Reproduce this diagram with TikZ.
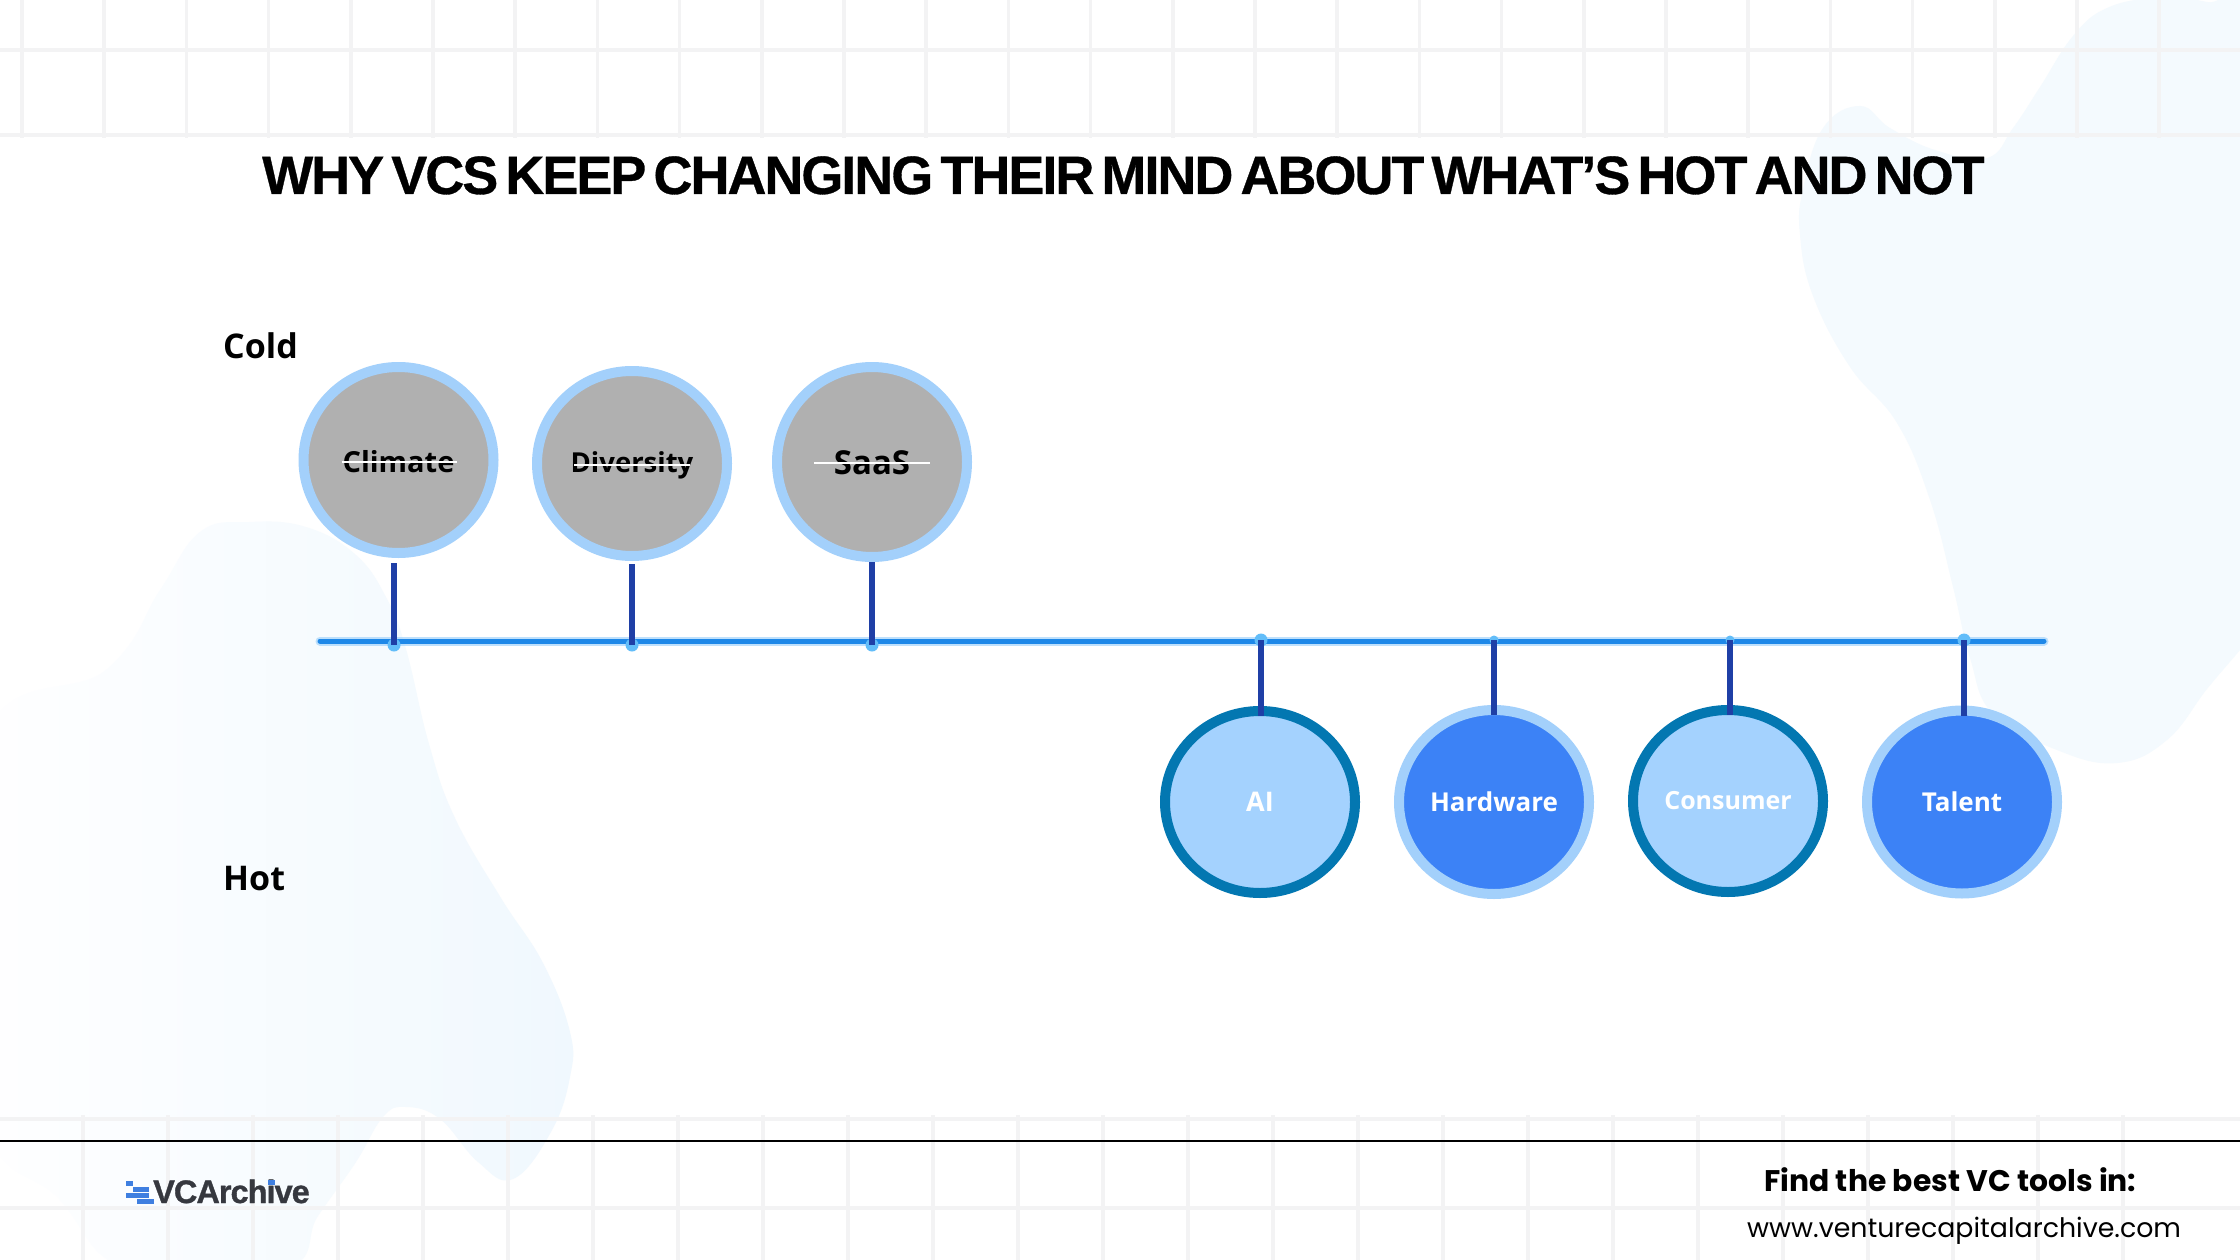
\documentclass[tikz,border=0pt]{standalone}
\usepackage{fontspec}
\usetikzlibrary{shapes.geometric}
\setmainfont{Open Sans}
\newfontfamily\titlef[LetterSpace=-3.75,WordSpace=0.55,BoldFeatures={FakeBold=0.6}]{Liberation Sans}
\newfontfamily\logof[LetterSpace=-3,BoldFeatures={FakeBold=1}]{Liberation Sans}
\newfontfamily\popf{Poppins}
\newcommand{\fsz}[1]{\fontsize{#1}{#1}\selectfont}
\newcommand{\lowr}[2]{\raisebox{-#1pt}[\height][\depth]{#2}}
\definecolor{blobc}{HTML}{F4FAFE}
\definecolor{blobd}{HTML}{F0F8FE}
\definecolor{gridc}{HTML}{F3F3F4}
\definecolor{grayf}{HTML}{B0B0B0}
\definecolor{ringl}{HTML}{A3D0FB}
\definecolor{ringd}{HTML}{0377B1}
\definecolor{lightf}{HTML}{A4D2FE}
\definecolor{bluef}{HTML}{3C82F6}
\definecolor{stem}{HTML}{1F3FA6}
\definecolor{railc}{HTML}{1E88E8}
\definecolor{railg}{HTML}{9CD0FB}
\definecolor{dotc}{HTML}{62BDF9}
\definecolor{logob}{HTML}{3F7FE0}
\definecolor{logot}{HTML}{36383F}
\tikzset{
  x=1pt,y=-1pt,
  gridline/.style={draw=gridc,line width=3.5pt},
  bubble/.style={ellipse,inner sep=0pt,outer sep=0pt,line width=10pt,font=\bfseries\fsz{27},
     minimum width=190pt,minimum height=#1},
  bubble/.default=184pt,
  coldb/.style={bubble=#1,draw=ringl,fill=grayf,text=black},
  hotb/.style={bubble=#1,draw=ringl,fill=bluef,text=white},
  warmb/.style={bubble=#1,draw=ringd,fill=lightf,text=white},
  raildot/.style={circle,fill=dotc,inner sep=0pt,minimum size=13pt},
  stemline/.style={draw=stem,line width=5.5pt},
  strike/.style={draw=white,line width=2pt},
  axislabel/.style={anchor=base west,inner sep=0pt,font=\bfseries\fsz{34},text=black},
  logobar/.style={fill=logob,draw=none}
}
\begin{document}
\begin{tikzpicture}
\useasboundingbox (0,0) rectangle (2240,1260);
\clip (0,0) rectangle (2240,1260);
\fill[white] (0,0) rectangle (2240,1260);
% blobs
\fill[blobc] plot[smooth cycle,tension=0.7] coordinates {
 (2157,-2) (2107,8) (2073,36) (2040,87) (2013,128) (1987,158) (1935,150) (1890,128) (1860,106)
 (1823,128) (1803,189) (1800,235) (1813,296) (1850,367) (1897,423) (1930,500) (1953,587)
 (1970,658) (1993,714) (2057,750) (2117,763) (2167,740) (2207,689) (2240,650) (2290,590) (2320,300) (2260,20) (2207,2)};
\shade[left color=white,right color=blobd] plot[smooth cycle,tension=0.7] coordinates {
 (249,522) (306,527) (356,555) (387,599) (406,649) (429,744) (455,818) (501,898) (543,963)
 (570,1032) (570,1077) (551,1132) (513,1179) (478,1162) (440,1119) (406,1107) (383,1117)
 (356,1162) (318,1216) (283,1270) (130,1270) (60,1200) (-20,1100) (-20,750) (107,669) (160,590) (200,532)};
% grids
\foreach \k in {0,...,27} \draw[gridline] ({22+82.2*\k},0) -- ({22+82.2*\k},138);
\draw[gridline] (0,50) -- (2240,50);
\draw[gridline] (0,135) -- (2240,135);
\foreach \k in {0,...,25} \draw[gridline] ({-2+85*\k},1115) -- ({-2+85*\k},1260);
\draw[gridline] (0,1119) -- (2240,1119);
\draw[gridline] (0,1208) -- (2240,1208);
% title
\node[anchor=base west,inner sep=0pt,font=\titlef\bfseries\fsz{54},text=black] (title) at (262,194)
  {WHY VCS KEEP CHANGING THEIR MIND ABOUT WHAT’S HOT AND NOT};
\node[axislabel] (cold) at (223,358) {Cold};
\node[axislabel] (hot) at (223,890) {Hot};
% rail
\coordinate (ra) at (320,641);
\coordinate (rb) at (2044,641);
\draw[draw=railg,line width=9pt,line cap=round,opacity=.65] (ra) -- (rb);
\draw[draw=railc,line width=5pt,line cap=round] (ra) -- (rb);
% rail dots
\node[raildot] (d1) at (394,645) {};
\node[raildot] (d2) at (632,645) {};
\node[raildot] (d3) at (872,645) {};
\node[raildot] (d4) at (1261,640) {};
\node[raildot,minimum size=9pt] (d5) at (1494,640) {};
\node[raildot,minimum size=9pt] (d6) at (1730,640) {};
\node[raildot] (d7) at (1964,640) {};
% bubbles
\node[coldb=186pt,font=\bfseries\fsz{29}] (climate) at (398.5,460) {\lowr{2}{Climate}};
\node[coldb=185pt,font=\bfseries\fsz{27.5}] (diversity) at (632,463.5) {\lowr{2}{Diversity}};
\node[coldb=190pt,font=\bfseries\fsz{33}] (saas) at (872,462) {\lowr{1}{SaaS}};
\node[warmb=182pt] (ai) at (1260,802) {AI};
\node[hotb=184pt,font=\bfseries\fsz{26}] (hardware) at (1494,802) {Hardware};
\node[warmb=182pt,font=\bfseries\fsz{25}] (consumer) at (1728,801) {Consumer};
\node[hotb=183pt,font=\bfseries\fsz{26}] (talent) at (1962,802) {Talent};
% strikes
\draw[strike] ([xshift=-57pt,yshift=-2pt]climate.center) -- ([xshift=58pt,yshift=-2pt]climate.center);
\draw[strike] ([xshift=-58pt,yshift=-1pt]diversity.center) -- ([xshift=58pt,yshift=-1pt]diversity.center);
\draw[strike] ([xshift=-58pt,yshift=-1pt]saas.center) -- ([xshift=58pt,yshift=-1pt]saas.center);
% stems
\draw[stemline,shorten <=10pt] (d1 |- climate.south) -- (d1.center);
\draw[stemline,shorten <=8pt] (d2 |- diversity.south) -- (d2.center);
\draw[stemline,shorten <=5pt] (d3 |- saas.south) -- (d3.center);
\draw[stemline,shorten >=-5pt] (d4.center) -- (d4 |- ai.north);
\draw[stemline,shorten >=-5pt] (d5.center) -- (d5 |- hardware.north);
\draw[stemline,shorten >=-5pt] (d6.center) -- (d6 |- consumer.north);
\draw[stemline,shorten >=-5pt] (d7.center) -- (d7 |- talent.north);
% footer
\draw[draw=black,line width=2pt] (0,1141) -- (2240,1141);
\fill[logobar] (125.7,1181) rectangle (133,1186);
\fill[logobar] (133,1187.3) rectangle (149,1192.3);
\fill[logobar] (125.7,1193) rectangle (149,1198);
\fill[logobar] (137,1198.7) rectangle (154,1203.7);
\node[anchor=base west,inner sep=0pt,font=\logof\bfseries\fsz{32.5},text=logot] (logo) at (153,1203) {VCArchive};
\fill[logobar] (267.7,1180) rectangle (275,1185);
\node[anchor=base west,inner sep=0pt,font=\popf\bfseries\fsz{29.8},text=black] (find) at (1764,1191) {Find the best VC tools in:};
\node[anchor=base west,inner sep=0pt,font=\popf\fsz{26.8},text=black] (url) at (1747,1237) {www.venturecapitalarchive.com};
\end{tikzpicture}
\end{document}
